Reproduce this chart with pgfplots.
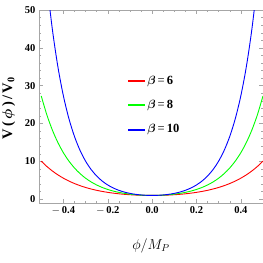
\documentclass[border=0pt]{standalone}
\usepackage{amsmath}
\usepackage{fontspec}
\setmainfont{Liberation Serif}
\usepackage{pgfplots}
\usepackage{pgfplotstable}
\pgfplotsset{compat=1.18}
\pgfplotstableread{
x b6 b8 b10
-0.5 10.0677 27.3082 74.2099
-0.475 8.6729 22.3618 57.7965
-0.45 7.4735 18.3128 45.0141
-0.425 6.4426 14.9987 35.0598
-0.4 5.5570 12.2866 27.3082
-0.375 4.7966 10.0677 21.2722
-0.35 4.1443 8.2527 16.5728
-0.325 3.5855 6.7700 12.9146
-0.3 3.1075 5.5570 10.0677
-0.275 2.6995 4.5679 7.8533
-0.25 2.3524 3.7622 6.1323
-0.225 2.0583 3.1075 4.7966
-0.2 1.8107 2.5775 3.7622
-0.175 1.6038 2.1509 2.9642
-0.15 1.4331 1.8107 2.3524
-0.125 1.2947 1.5431 1.8884
-0.1 1.1855 1.3374 1.5431
-0.075 1.1030 1.1855 1.2947
-0.05 1.0453 1.0811 1.1276
-0.025 1.0113 1.0201 1.0314
0 1 1 1
0.025 1.0113 1.0201 1.0314
0.05 1.0453 1.0811 1.1276
0.075 1.1030 1.1855 1.2947
0.1 1.1855 1.3374 1.5431
0.125 1.2947 1.5431 1.8884
0.15 1.4331 1.8107 2.3524
0.175 1.6038 2.1509 2.9642
0.2 1.8107 2.5775 3.7622
0.225 2.0583 3.1075 4.7966
0.25 2.3524 3.7622 6.1323
0.275 2.6995 4.5679 7.8533
0.3 3.1075 5.5570 10.0677
0.325 3.5855 6.7700 12.9146
0.35 4.1443 8.2527 16.5728
0.375 4.7966 10.0677 21.2722
0.4 5.5570 12.2866 27.3082
0.425 6.4426 14.9987 35.0598
0.45 7.4735 18.3128 45.0141
0.475 8.6729 22.3618 57.7965
0.5 10.0677 27.3082 74.2099
}\data
\begin{document}
\begin{tikzpicture}
\begin{axis}[
  scale only axis, width=224pt, height=193pt,
  at={(0,0)}, anchor=south west,
  xmin=-0.51, xmax=0.5, ymin=-1, ymax=50,
  xtick={-0.4,-0.2,0,0.2,0.4},
  xticklabels={$-$\,0.4,$-$\,0.2,0.0,0.2,0.4},
  minor x tick num=3,
  ytick={0,10,20,30,40,50},
  minor y tick num=4,
  tick align=inside,
  major tick length=4pt, minor tick length=2pt,
  axis line style={gray!70},
  every tick/.style={gray!70, line width=0.4pt},
  tick label style={font=\fontsize{10.5}{12}\selectfont\bfseries},
  /pgf/number format/assume math mode=true,
  xlabel={$\phi/M_P$},
  xlabel style={at={(axis description cs:0.5,-0.22)}, anchor=center, font=\fontsize{14}{16}\selectfont},
  ylabel={\bfseries V\,(\,$\boldsymbol{\phi}$\,)\,/\,V$_{\mathbf{0}}$},
  ylabel style={at={(axis description cs:-0.135,0.49)}, anchor=center, rotate=0, font=\fontsize{14.5}{16}\selectfont},
  legend style={draw=white, fill=white, at={(axis description cs:0.385,0.68)}, anchor=north west,
    font=\fontsize{12.5}{14}\selectfont, row sep=10.5pt},
  legend cell align=left,
  legend image code/.code={\fill[#1] (0pt,-0.4pt) rectangle (16pt,0.4pt);},
  clip=true,
]
\addplot[color=red, line width=0.9pt, smooth] table[x=x, y=b6] {\data};
\addlegendentry{$\boldsymbol{\beta}$\,=\,\textbf{6}}
\addplot[color=green, line width=0.9pt, smooth] table[x=x, y=b8] {\data};
\addlegendentry{$\boldsymbol{\beta}$\,=\,\textbf{8}}
\addplot[color=blue, line width=0.9pt, smooth] table[x=x, y=b10] {\data};
\addlegendentry{$\boldsymbol{\beta}$\,=\,\textbf{10}}
\end{axis}
\pgfresetboundingbox
\path[use as bounding box] (-39pt,-60pt) rectangle (224pt,203pt);
\end{tikzpicture}
\end{document}
